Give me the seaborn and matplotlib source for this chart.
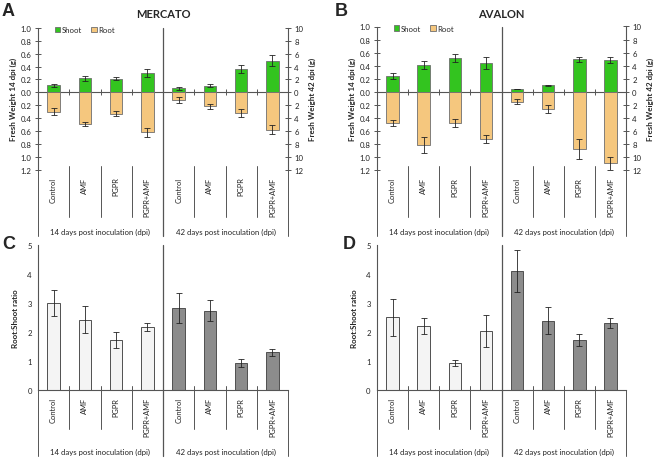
import matplotlib
matplotlib.use("Agg")
import matplotlib.pyplot as plt
import matplotlib.transforms as mtransforms
import seaborn as sns
import pandas as pd

sns.set_style("white")
plt.rcParams['font.family'] = ['Lato', 'DejaVu Sans']

W, H = 660, 460

treatments = ["Control", "AMF", "PGPR", "PGPR+AMF"]
dpi_groups = ["14", "42"]
group_labels = ["14 days post inoculation (dpi)", "42 days post inoculation (dpi)"]

# fresh weight, 14 dpi in g (left axis), 42 dpi in g (right axis)
mercato_shoot_14 = [0.11, 0.22, 0.21, 0.30]
mercato_shoot_14_err = [0.02, 0.04, 0.025, 0.06]
mercato_root_14 = [0.30, 0.49, 0.33, 0.62]
mercato_root_14_err = [0.06, 0.03, 0.04, 0.07]
mercato_shoot_42 = [0.6, 1.0, 3.6, 4.9]
mercato_shoot_42_err = [0.2, 0.25, 0.6, 0.85]
mercato_root_42 = [1.2, 2.2, 3.2, 5.8]
mercato_root_42_err = [0.4, 0.4, 0.6, 0.7]

avalon_shoot_14 = [0.24, 0.41, 0.52, 0.44]
avalon_shoot_14_err = [0.04, 0.06, 0.06, 0.09]
avalon_root_14 = [0.48, 0.82, 0.48, 0.72]
avalon_root_14_err = [0.04, 0.12, 0.06, 0.06]
avalon_shoot_42 = [0.4, 1.0, 5.0, 4.9]
avalon_shoot_42_err = [0.05, 0.05, 0.4, 0.5]
avalon_root_42 = [1.5, 2.6, 8.8, 11.0]
avalon_root_42_err = [0.35, 0.6, 1.5, 0.95]

# root:shoot ratio
mercato_ratio = [2.99, 2.42, 1.72, 2.16, 2.82, 2.73, 0.92, 1.29]
mercato_ratio_err = [0.44, 0.46, 0.27, 0.14, 0.53, 0.36, 0.13, 0.12]
avalon_ratio = [2.50, 2.19, 0.92, 2.02, 4.11, 2.38, 1.72, 2.30]
avalon_ratio_err = [0.63, 0.28, 0.11, 0.56, 0.73, 0.47, 0.21, 0.17]

SHOOT = "#33c41f"
ROOT = "#f5c77e"
LIGHT = "#f4f4f4"
DARK = "#8c8c8c"
EDGE = "#6e6e6e"
LINE = "#555555"

keys = [f"{g} {t}" for g in dpi_groups for t in treatments]


def px_rect(left, top, right, bottom):
    return [left / W, 1 - bottom / H, (right - left) / W, (bottom - top) / H]


def frame_categories(ax, top, bottom, inner_bot, outer_bot, label_y, zero_ticks=None):
    """Separator lines and group labels under the axes (y in pixels)."""
    h = bottom - top
    fy = lambda y: (bottom - y) / h
    trans = mtransforms.blended_transform_factory(ax.transData, ax.transAxes)
    for x in [0.5, 1.5, 2.5, 4.5, 5.5, 6.5]:
        ax.plot([x, x], [fy(bottom - 4), fy(inner_bot)], color=LINE, lw=0.7,
                transform=trans, clip_on=False)
    for x in [-0.5, 7.5]:
        ax.plot([x, x], [0, fy(outer_bot)], color=LINE, lw=0.7,
                transform=trans, clip_on=False)
    ax.plot([3.5, 3.5], [1, fy(outer_bot)], color=LINE, lw=0.9,
            transform=trans, clip_on=False)
    if zero_ticks is not None:
        ax.vlines([0.5, 1.5, 2.5, 4.5, 5.5, 6.5], -zero_ticks, zero_ticks,
                  color=LINE, lw=0.7)
    for xc, lab in zip([1.5, 5.5], group_labels):
        ax.text(xc, fy(label_y), lab, transform=trans, ha="center", va="center",
                fontsize=5.6, color="#222222")
    ax.set_xticks(range(len(keys)))
    ax.set_xticklabels(treatments * 2, rotation=90, fontsize=5.4, color="#222222")
    ax.tick_params(axis="x", length=0, pad=5)
    ax.set_xlim(-0.5, 7.5)
    ax.set_xlabel("")


def style_y(ax, side="left"):
    ax.tick_params(axis="y", direction="inout", length=5, width=0.7, color=LINE,
                   labelsize=5.6, labelcolor="#222222", pad=2)
    for s in ["top", "bottom"]:
        ax.spines[s].set_visible(False)
    for s in ["left", "right"]:
        ax.spines[s].set_color(LINE)
        ax.spines[s].set_linewidth(0.8)
    ax.spines["right" if side == "left" else "left"].set_visible(False)


def weight_panel(rect, title, letter, letter_x, shoot14, shoot14e, root14, root14e,
                 shoot42, shoot42e, root42, root42e):
    left, top, right, bottom = rect
    ax = fig.add_axes(px_rect(*rect))
    ax2 = ax.twinx()
    d14 = pd.DataFrame({"key": keys[:4], "shoot": shoot14, "root": root14})
    d42 = pd.DataFrame({"key": keys[4:], "shoot": shoot42, "root": root42})
    d14["neg_root"] = -d14["root"]
    d42["neg_root"] = -d42["root"]
    for a, d in [(ax, d14), (ax2, d42)]:
        sns.barplot(data=d, x="key", y="shoot", order=keys, color=SHOOT, width=0.4,
                    saturation=1, edgecolor=EDGE, linewidth=0.6, ax=a, label="Shoot")
        sns.barplot(data=d, x="key", y="neg_root", order=keys, color=ROOT, width=0.4,
                    saturation=1, edgecolor=EDGE, linewidth=0.6, ax=a, label="Root")
        a.legend_ = None
    pos14 = [keys.index(k) for k in d14["key"]]
    pos42 = [keys.index(k) for k in d42["key"]]
    eb = dict(fmt="none", ecolor="#222222", elinewidth=0.6, capsize=2, capthick=0.6)
    ax.errorbar(pos14, shoot14, yerr=shoot14e, **eb)
    ax.errorbar(pos14, d14["neg_root"], yerr=root14e, **eb)
    ax2.errorbar(pos42, shoot42, yerr=shoot42e, **eb)
    ax2.errorbar(pos42, d42["neg_root"], yerr=root42e, **eb)

    ax.set_ylim(-1.2, 1.0)
    ax2.set_ylim(-12, 10)
    t1 = [round(-1.2 + 0.2 * i, 1) for i in range(12)]
    ax.set_yticks(t1)
    ax.set_yticklabels([f"{abs(v):.1f}" for v in t1])
    t2 = list(range(-12, 11, 2))
    ax2.set_yticks(t2)
    ax2.set_yticklabels([f"{abs(v)}" for v in t2])
    style_y(ax, "left")
    style_y(ax2, "right")
    ax.axhline(0, color=LINE, lw=0.8, zorder=0.5)
    ax.set_ylabel("Fresh Weight 14 dpi (g)", fontsize=5.8, fontweight="bold",
                  labelpad=3)
    ax2.set_ylabel("Fresh Weight 42 dpi (g)", fontsize=5.8, fontweight="bold",
                   labelpad=4)
    frame_categories(ax, top, bottom, 218, 237, 232, zero_ticks=0.045)
    h, l = ax.get_legend_handles_labels()
    ax.legend(h, l, loc="upper left", bbox_to_anchor=(0.055, 1.035), ncol=2,
              frameon=False, fontsize=5.6, handlelength=0.7, handleheight=0.7,
              handletextpad=0.2, columnspacing=1.2, borderaxespad=0)
    fig.text((left + right) / 2 / W, 1 - 15 / H, title, ha="center", va="center",
             fontsize=8, fontweight="bold")
    fig.text(letter_x / W, 1 - 11 / H, letter, ha="left", va="center",
             fontsize=13, fontweight="bold", family="Liberation Sans")


def ratio_panel(rect, letter, letter_x, ratio, ratio_err):
    left, top, right, bottom = rect
    ax = fig.add_axes(px_rect(*rect))
    d = pd.DataFrame({"key": keys, "ratio": ratio,
                      "dpi": [g for g in dpi_groups for _ in treatments]})
    sns.barplot(data=d, x="key", y="ratio", order=keys, hue="dpi", dodge=False,
                palette={"14": LIGHT, "42": DARK}, width=0.4, saturation=1,
                edgecolor="#505050", linewidth=0.7, legend=False, ax=ax)
    ax.errorbar(range(len(keys)), ratio, yerr=ratio_err, fmt="none",
                ecolor="#222222", elinewidth=0.6, capsize=2, capthick=0.6)
    ax.set_ylim(0, 5)
    ax.set_yticks(range(6))
    style_y(ax, "left")
    ax.spines["bottom"].set_visible(True)
    ax.spines["bottom"].set_color(LINE)
    ax.spines["bottom"].set_linewidth(0.8)
    ax.set_ylabel("Root:Shoot ratio", fontsize=5.8, fontweight="bold", labelpad=6)
    frame_categories(ax, top, bottom, 430, 457, 452)
    fig.text(letter_x / W, 1 - 245 / H, letter, ha="left", va="center",
             fontsize=13, fontweight="bold", family="Liberation Sans")


fig = plt.figure(figsize=(W / 100, H / 100), dpi=100)

weight_panel((38, 29, 288, 170.5), "MERCATO", "A", 2,
             mercato_shoot_14, mercato_shoot_14_err, mercato_root_14, mercato_root_14_err,
             mercato_shoot_42, mercato_shoot_42_err, mercato_root_42, mercato_root_42_err)
weight_panel((377, 27.5, 626, 171), "AVALON", "B", 335,
             avalon_shoot_14, avalon_shoot_14_err, avalon_root_14, avalon_root_14_err,
             avalon_shoot_42, avalon_shoot_42_err, avalon_root_42, avalon_root_42_err)
ratio_panel((38, 246, 288, 390.7), "C", 2, mercato_ratio, mercato_ratio_err)
ratio_panel((377, 246, 626, 390.7), "D", 343, avalon_ratio, avalon_ratio_err)

fig.savefig("out.png", dpi=100)
